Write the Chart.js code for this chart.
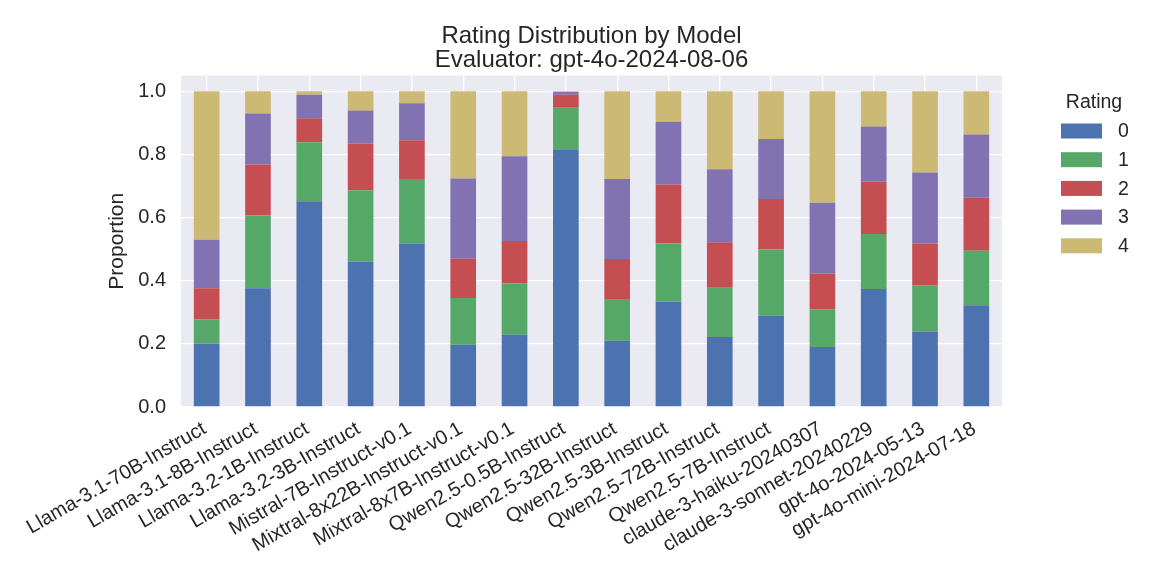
<!DOCTYPE html>
<html>
<head>
<meta charset="utf-8">
<script src="https://cdn.jsdelivr.net/npm/chart.js@4/dist/chart.umd.min.js"></script>
<style>
  html, body { margin: 0; padding: 0; background: #fff; }
  #wrap { width: 1163px; height: 581px; }
</style>
</head>
<body>
<div id="wrap"><canvas id="ratingChart"></canvas></div>
<script>
// data
const models = [
  'Llama-3.1-70B-Instruct', 'Llama-3.1-8B-Instruct', 'Llama-3.2-1B-Instruct', 'Llama-3.2-3B-Instruct',
  'Mistral-7B-Instruct-v0.1', 'Mixtral-8x22B-Instruct-v0.1', 'Mixtral-8x7B-Instruct-v0.1',
  'Qwen2.5-0.5B-Instruct', 'Qwen2.5-32B-Instruct', 'Qwen2.5-3B-Instruct', 'Qwen2.5-72B-Instruct',
  'Qwen2.5-7B-Instruct', 'claude-3-haiku-20240307', 'claude-3-sonnet-20240229',
  'gpt-4o-2024-05-13', 'gpt-4o-mini-2024-07-18'
];
const rating0 = [0.200, 0.376, 0.652, 0.461, 0.518, 0.197, 0.229, 0.814, 0.210, 0.334, 0.222, 0.289, 0.190, 0.374, 0.238, 0.322];
const rating1 = [0.078, 0.231, 0.187, 0.226, 0.204, 0.148, 0.162, 0.134, 0.130, 0.184, 0.156, 0.210, 0.120, 0.174, 0.148, 0.173];
const rating2 = [0.098, 0.161, 0.076, 0.148, 0.123, 0.125, 0.135, 0.041, 0.129, 0.187, 0.144, 0.160, 0.113, 0.166, 0.132, 0.168];
const rating3 = [0.154, 0.162, 0.074, 0.104, 0.117, 0.254, 0.268, 0.009, 0.253, 0.199, 0.231, 0.190, 0.224, 0.175, 0.225, 0.200];
const rating4 = [0.470, 0.070, 0.011, 0.061, 0.038, 0.276, 0.206, 0.002, 0.278, 0.096, 0.247, 0.151, 0.353, 0.111, 0.257, 0.137];
const ratingLabels = ['0', '1', '2', '3', '4'];
const yTicks = [0, 0.2, 0.4, 0.6, 0.8, 1.0];

const colors = ['#4C72B0', '#55A868', '#C44E52', '#8172B2', '#CCB974'];
const series = [rating0, rating1, rating2, rating3, rating4];
const FONT = '"Liberation Sans", Arial, sans-serif';
const TEXT = '#262626';

// grey plot background like seaborn darkgrid
const plotBg = {
  id: 'plotBg',
  beforeDraw(chart) {
    const { ctx, chartArea: a } = chart;
    ctx.save();
    ctx.fillStyle = '#EAEAF2';
    ctx.fillRect(a.left, a.top, a.right - a.left, a.bottom - a.top);
    ctx.restore();
  }
};

// legend on the right with a title
const sideLegend = {
  id: 'sideLegend',
  afterDraw(chart) {
    const ctx = chart.ctx;
    ctx.save();
    ctx.fillStyle = TEXT;
    ctx.font = '19.5px ' + FONT;
    ctx.textAlign = 'center';
    ctx.textBaseline = 'middle';
    ctx.fillText('Rating', 1094, 103);
    chart.data.datasets.forEach((ds, i) => {
      const y = 131 + i * 28.7;
      ctx.fillStyle = ds.backgroundColor;
      ctx.fillRect(1061, y - 7.5, 41, 15);
      ctx.fillStyle = TEXT;
      ctx.textAlign = 'left';
      ctx.fillText(ds.label, 1118, y + 1);
    });
    ctx.restore();
  }
};

new Chart(document.getElementById('ratingChart'), {
  type: 'bar',
  data: {
    labels: models,
    datasets: series.map((vals, i) => ({
      label: ratingLabels[i],
      data: vals,
      backgroundColor: colors[i],
      borderWidth: 0,
      barPercentage: 0.5,
      categoryPercentage: 1.0
    }))
  },
  options: {
    responsive: true,
    maintainAspectRatio: false,
    animation: false,
    layout: { padding: { left: 100, right: 161, top: 0, bottom: 0 } },
    plugins: {
      legend: { display: false },
      tooltip: { enabled: false },
      title: {
        display: true,
        fullSize: false,
        text: ['Rating Distribution by Model', 'Evaluator: gpt-4o-2024-08-06'],
        color: TEXT,
        font: { family: FONT, size: 24, weight: 'normal', lineHeight: 0.97 },
        padding: { top: 25, bottom: 4 }
      }
    },
    scales: {
      x: {
        stacked: true,
        border: { display: false },
        grid: { color: '#ffffff', lineWidth: 1.3, offset: false, drawTicks: false },
        ticks: {
          color: TEXT,
          font: { family: FONT, size: 20 },
          maxRotation: 30,
          minRotation: 30,
          autoSkip: false,
          padding: 10,
          labelOffset: -2
        },
        afterFit(scale) {
          scale.height = 174;
          scale.paddingLeft = 0;
          scale.paddingRight = 0;
        }
      },
      y: {
        stacked: true,
        min: 0,
        max: 1.05,
        border: { display: false },
        grid: { color: '#ffffff', lineWidth: 1.3, drawTicks: false },
        afterBuildTicks(scale) {
          scale.ticks = yTicks.map(v => ({ value: v }));
        },
        ticks: {
          color: TEXT,
          font: { family: FONT, size: 20 },
          padding: 15,
          callback: v => v.toFixed(1)
        },
        title: {
          display: true,
          text: 'Proportion',
          color: TEXT,
          font: { family: FONT, size: 21 },
          padding: { top: 5, bottom: 0 }
        },
        afterFit(scale) {
          scale.width = 81;
        }
      }
    }
  },
  plugins: [plotBg, sideLegend]
});
</script>
</body>
</html>
